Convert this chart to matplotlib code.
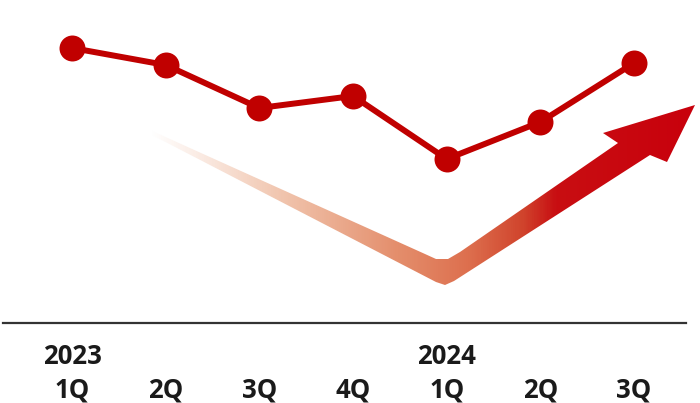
import matplotlib.pyplot as plt
import numpy as np
from matplotlib.patches import Polygon
from matplotlib.colors import LinearSegmentedColormap

plt.rcParams['font.family'] = ['Open Sans', 'DejaVu Sans']

# data
quarters = ['1Q', '2Q', '3Q', '4Q', '1Q', '2Q', '3Q']
years = {0: '2023', 4: '2024'}
values = [27.5, 25.8, 21.5, 22.7, 16.4, 20.1, 26.0]

red = '#C00000'

fig = plt.figure(figsize=(7, 4.03), dpi=100)

# background axes in pixel units for the decorative trend arrow
bg = fig.add_axes([0, 0, 1, 1])
bg.set_xlim(0, 700)
bg.set_ylim(403, 0)
bg.axis('off')

arrow_pts = [(150, 130), (425, 254), (436, 259), (448, 259), (460, 252),
             (618, 143), (603, 133), (695, 105), (667, 162), (650, 155),
             (454, 281), (445, 285), (436, 282), (150, 134)]
poly = Polygon(arrow_pts, closed=True, facecolor='none', edgecolor='none')
bg.add_patch(poly)

grad = LinearSegmentedColormap.from_list('trend', [
    (0.0, '#FFFFFF'), (0.08, '#FBEDE6'), (0.25, '#F0C2AA'), (0.45, '#E48E6C'),
    (0.58, '#DD6F4E'), (0.68, '#D0432C'), (0.74, '#C80E12'), (1.0, '#C8000C')])
xs = np.linspace(0, 1, 600).reshape(1, -1)
img = bg.imshow(xs, cmap=grad, extent=(150, 700, 290, 100), aspect='auto',
                interpolation='bilinear')
img.set_clip_path(poly)

# main chart
ax = fig.add_axes([3 / 700, 80 / 403, 683 / 700, 323 / 403])
ax.patch.set_alpha(0)
x = np.arange(len(values))
ax.plot(x, values, color=red, lw=4.3, marker='o', ms=18.7, mew=0,
        solid_capstyle='round', clip_on=False)
ax.set_xlim(-69 / 93.67, 614 / 93.67)
ax.set_ylim(0, 32.3)

for s in ['top', 'left', 'right']:
    ax.spines[s].set_visible(False)
ax.spines['bottom'].set_color('#333333')
ax.spines['bottom'].set_linewidth(1.6)
ax.set_yticks([])
ax.set_xticks([])

lbl = dict(transform=ax.get_xaxis_transform(), ha='center', va='center',
           fontsize=18.5, fontweight='bold', color='#1a1a1a')
for i, q in enumerate(quarters):
    ax.text(i, -67 / 323, q, **lbl)
for i, yr in years.items():
    ax.text(i, -34 / 323, yr, **lbl)

fig.savefig('out.png', dpi=100)
